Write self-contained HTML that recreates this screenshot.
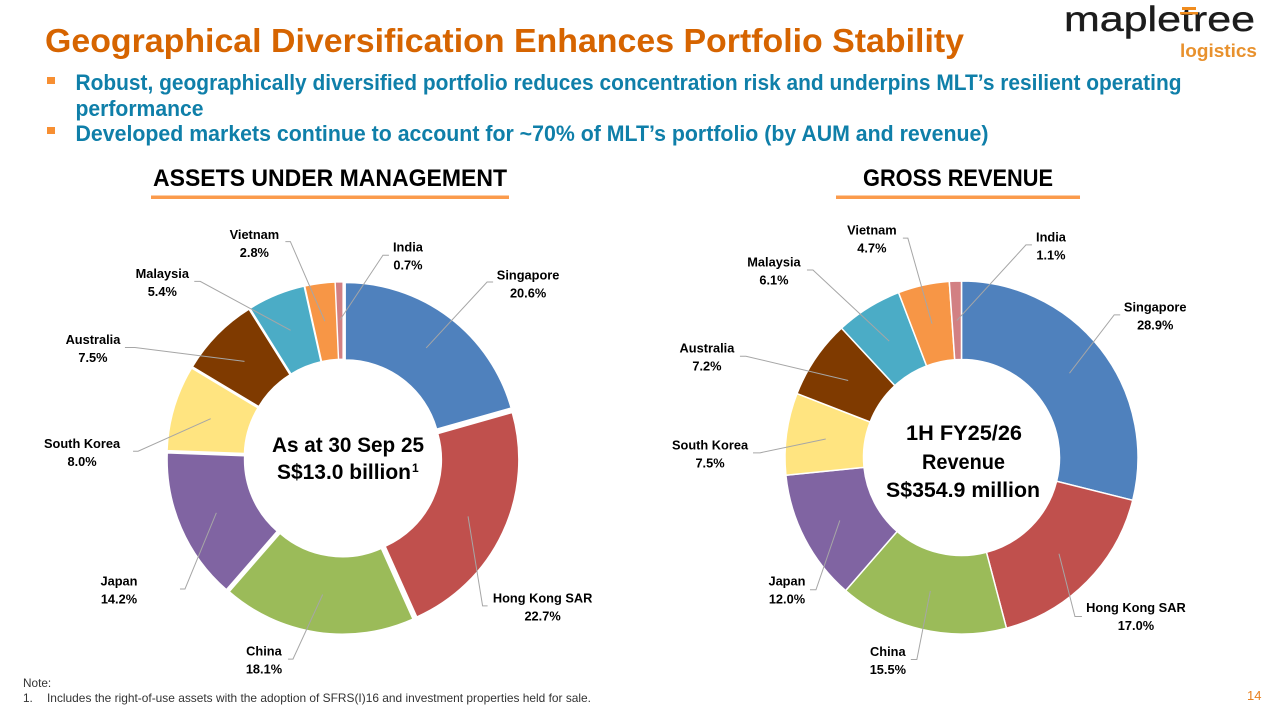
<!DOCTYPE html>
<html lang="en">
<head>
<meta charset="utf-8">
<title>Geographical Diversification Enhances Portfolio Stability</title>
<style>
html,body{margin:0;padding:0;background:#fff;width:1266px;height:706px;overflow:hidden}
svg{display:block}
text{font-family:"Liberation Sans",Arial,sans-serif}
.head{fill:#0F7FA9;font-weight:700;font-size:22px}
.sec{fill:#000;font-weight:700;font-size:24px}
.mid{fill:#000;font-weight:700;font-size:21.5px}
.foot{fill:#333;font-size:11.8px}
.lbl{fill:#000;font-weight:700;font-size:12.8px;text-anchor:middle}
</style>
</head>
<body>
<svg id="slide" xmlns="http://www.w3.org/2000/svg" width="1266" height="706" viewBox="0 0 1266 706">
  <rect x="0" y="0" width="1266" height="706" fill="#fff"/>

  <g>
    <text x="1064" y="31" font-size="35" fill="#1c1c1c" stroke="#1c1c1c" stroke-width="0.4" textLength="191" lengthAdjust="spacingAndGlyphs">mapletree</text>
    <rect x="1182" y="7" width="14" height="3" fill="#F08C1E"/>
    <rect x="1180" y="12" width="18" height="2.5" fill="#F08C1E"/>
    <text x="1180" y="57" font-size="18.5" font-weight="700" fill="#E8912D" textLength="77" lengthAdjust="spacingAndGlyphs">logistics</text>
  </g>

  <text x="45" y="52" font-size="33.5" font-weight="700" fill="#D66400" textLength="919" lengthAdjust="spacingAndGlyphs">Geographical Diversification Enhances Portfolio Stability</text>

  <rect x="47" y="77" width="8" height="7" fill="#F78F32"/>
  <text class="head" x="75.5" y="90" textLength="1106" lengthAdjust="spacingAndGlyphs">Robust, geographically diversified portfolio reduces concentration risk and underpins MLT’s resilient operating</text>
  <text class="head" x="75.5" y="116" textLength="128" lengthAdjust="spacingAndGlyphs">performance</text>
  <rect x="47" y="127" width="8" height="7" fill="#F78F32"/>
  <text class="head" x="75.5" y="141" textLength="913" lengthAdjust="spacingAndGlyphs">Developed markets continue to account for ~70% of MLT’s portfolio (by AUM and revenue)</text>

  <text class="sec" x="153" y="186" textLength="354" lengthAdjust="spacingAndGlyphs">ASSETS UNDER MANAGEMENT</text>
  <rect x="151" y="195.5" width="358" height="3.5" fill="#FB9B4C"/>
  <text class="sec" x="863" y="186" textLength="190" lengthAdjust="spacingAndGlyphs">GROSS REVENUE</text>
  <rect x="836" y="195.5" width="244" height="3.5" fill="#FB9B4C"/>

  <g id="aum-chart"></g>
  <g id="rev-chart"></g>

  <g>
    <text class="mid" x="272" y="452" textLength="152" lengthAdjust="spacingAndGlyphs">As at 30 Sep 25</text>
    <text class="mid" x="277" y="479" textLength="134" lengthAdjust="spacingAndGlyphs">S$13.0 billion</text>
    <text x="412" y="472" font-size="12" font-weight="700" fill="#000">1</text>
  </g>
  <g>
    <text class="mid" x="906" y="440" textLength="116" lengthAdjust="spacingAndGlyphs">1H FY25/26</text>
    <text class="mid" x="922" y="469" textLength="83" lengthAdjust="spacingAndGlyphs">Revenue</text>
    <text class="mid" x="886" y="497" textLength="154" lengthAdjust="spacingAndGlyphs">S$354.9 million</text>
  </g>

  <text class="foot" x="23" y="687">Note:</text>
  <text class="foot" x="23" y="702">1.</text>
  <text class="foot" x="47" y="702" textLength="544" lengthAdjust="spacingAndGlyphs">Includes the right-of-use assets with the adoption of SFRS(I)16 and investment properties held for sale.</text>
  <text x="1247" y="700" font-size="13" fill="#E8801F">14</text>
</svg>

<script>
const categories = ["Singapore", "Hong Kong SAR", "China", "Japan", "South Korea", "Australia", "Malaysia", "Vietnam", "India"];
const aumValues = [20.6, 22.7, 18.1, 14.2, 8.0, 7.5, 5.4, 2.8, 0.7];
const revenueValues = [28.9, 17.0, 15.5, 12.0, 7.5, 7.2, 6.1, 4.7, 1.1];
const sliceColors = ["#4F81BD", "#C0504D", "#9BBB59", "#8064A2", "#FFE480", "#7F3A00", "#4BACC6", "#F79646", "#D28083"];

const NS = "http://www.w3.org/2000/svg";

function polar(cx, cy, deg, r) {
  const a = deg * Math.PI / 180;
  return [cx + r * Math.sin(a), cy - r * Math.cos(a)];
}

function slug(s) {
  return s.toLowerCase().replace(/\s+/g, "-");
}

function drawDonut(opts) {
  const root = document.getElementById(opts.id);
  const total = opts.values.reduce(function (s, v) { return s + v; }, 0);
  let running = 0;
  const mids = [];

  opts.values.forEach(function (v, i) {
    const start = running / total * 360;
    running += v;
    const end = running / total * 360;
    const mid = (start + end) / 2;
    mids.push(mid);
    const off = polar(0, 0, mid, opts.explode);
    const cx = opts.cx + off[0];
    const cy = opts.cy + off[1];
    const large = end - start > 180 ? 1 : 0;
    const p1 = polar(cx, cy, start, opts.outer);
    const p2 = polar(cx, cy, end, opts.outer);
    const p3 = polar(cx, cy, end, opts.inner);
    const p4 = polar(cx, cy, start, opts.inner);
    const path = document.createElementNS(NS, "path");
    path.setAttribute("d", "M" + p1[0] + " " + p1[1] + "A" + opts.outer + " " + opts.outer + " 0 " + large + " 1 " + p2[0] + " " + p2[1] +
      "L" + p3[0] + " " + p3[1] + "A" + opts.inner + " " + opts.inner + " 0 " + large + " 0 " + p4[0] + " " + p4[1] + "Z");
    path.setAttribute("fill", sliceColors[i]);
    path.setAttribute("stroke", "#fff");
    path.setAttribute("stroke-width", opts.gap);
    
    
    root.appendChild(path);
  });

  opts.values.forEach(function (v, i) {
    const l = opts.layout[i];
    const c = polar(opts.cx, opts.cy, mids[i] + l[0], l[1]);
    const s = polar(opts.cx, opts.cy, mids[i], opts.leaderR);
    const tail = [c[0] + l[2], c[1] + l[3]];
    const knee = [tail[0] + l[4], tail[1]];
    const line = document.createElementNS(NS, "polyline");
    line.setAttribute("points", s[0] + "," + s[1] + " " + knee[0] + "," + knee[1] + " " + tail[0] + "," + tail[1]);
    line.setAttribute("fill", "none");
    line.setAttribute("stroke", "#A6A6A6");
    line.setAttribute("stroke-width", "1");
    
    
    root.appendChild(line);

    const name = document.createElementNS(NS, "text");
    name.setAttribute("class", "lbl");
    name.setAttribute("x", c[0]);
    name.setAttribute("y", c[1] - 4.5);
    name.textContent = categories[i];
    
    
    root.appendChild(name);

    const val = document.createElementNS(NS, "text");
    val.setAttribute("class", "lbl");
    val.setAttribute("x", c[0]);
    val.setAttribute("y", c[1] + 13.5);
    val.textContent = v.toFixed(1) + "%";
    
    
    root.appendChild(val);
  });
}

/* label placement: [angle offset from slice middle, radius, leader tail dx, dy, knee dx] */
drawDonut({
  id: "aum-chart", prefix: "aum", values: aumValues,
  cx: 343, cy: 458, outer: 172, inner: 95, explode: 4, gap: 1, leaderR: 138,
  layout: [
    [9.7, 254, -35, -2, -6],
    [11.7, 249, -55, -1, -5],
    [12.9, 217, 24, -1, 5],
    [-7.1, 260, 61, -1, 5],
    [-15.3, 261, 51, -1, 5],
    [-20.8, 273, 32, -1, 10],
    [-23.5, 252, 32, -1, 6],
    [-14.9, 232, 31, -2, 5],
    [19.1, 212, -19, -1, -6]
  ]
});

drawDonut({
  id: "rev-chart", prefix: "revenue", values: revenueValues,
  cx: 961.5, cy: 457.5, outer: 176.5, inner: 98, explode: 0, gap: 1.5, leaderR: 137,
  layout: [
    [1.8, 240, -35, -1, -6],
    [-2.3, 236, -54, 0, -7],
    [6.8, 216, 23, -1, 6],
    [-9.8, 219, 23, 0, 6],
    [-6.9, 251.5, 43, -1, 7],
    [-12.7, 273.6, 33, -1, 6],
    [-13.3, 264.5, 33, -1, 6],
    [-9.9, 236, 31, -1, 5],
    [24.9, 229.7, -19, -1, -6]
  ]
});
</script>
</body>
</html>
